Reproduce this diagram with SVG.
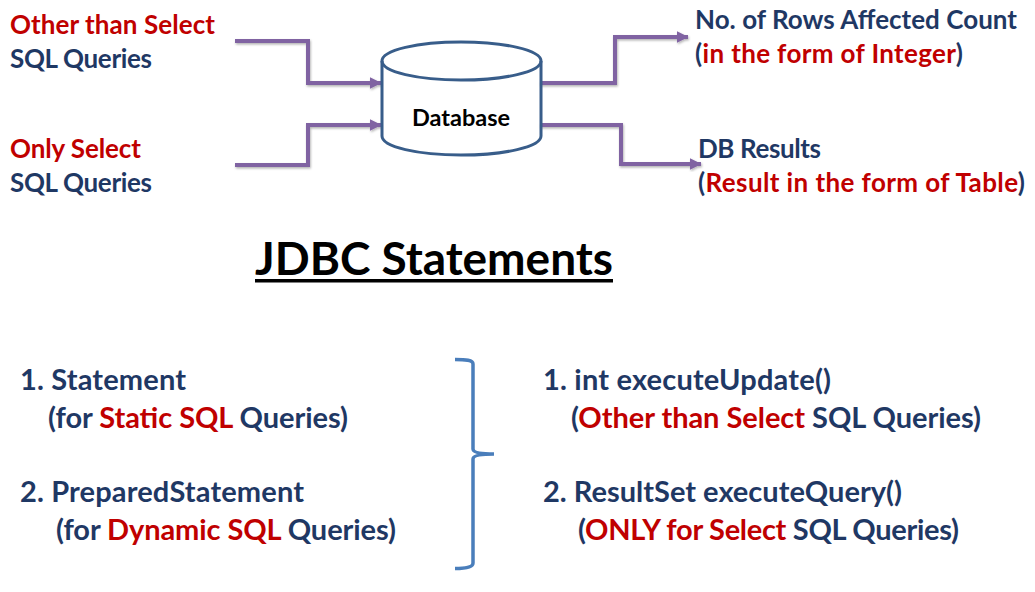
<svg xmlns="http://www.w3.org/2000/svg" width="1035" height="592" viewBox="0 0 1035 592">
<style>
text{font-family:Lato,"Open Sans","Liberation Sans",sans-serif;font-weight:700;font-size:26px;fill:#1f3864}
.r{fill:#c00000}
.big{font-size:29px}
.conn{fill:none;stroke:#8064a2;stroke-width:4;stroke-linejoin:miter;filter:url(#sh)}
.db{fill:none;stroke:#385d8a;stroke-width:3}
</style>
<defs>
<filter id="sh" x="-10%" y="-20%" width="120%" height="140%"><feDropShadow dx="0.8" dy="1.5" stdDeviation="1" flood-color="#000" flood-opacity="0.3"/></filter>
<marker id="ah" viewBox="0 0 10 10" refX="9.5" refY="5" markerWidth="12" markerHeight="12" markerUnits="userSpaceOnUse" orient="auto" preserveAspectRatio="none"><path d="M0 0L10 5L0 10Z" fill="#8064a2"/></marker>
</defs>
<rect width="1035" height="592" fill="#fff"/>
<g id="connectors">
<path class="conn" marker-end="url(#ah)" d="M235 41H308V83H381"/>
<path class="conn" marker-end="url(#ah)" d="M235 165H308V125H381"/>
<path class="conn" marker-end="url(#ah)" d="M540 83H615V37H688"/>
<path class="conn" marker-end="url(#ah)" d="M540 125H621V164H701"/>
</g>
<g id="database">
<path class="db" d="M382 61C382 50 418 42 461 42C504 42 541 50 541 61V136C541 147 504 155 461 155C418 155 382 147 382 136Z"/>
<path class="db" d="M382 61C382 72 418 80 461 80C504 80 541 72 541 61"/>
<text x="461" y="126" text-anchor="middle" style="font-size:23.500px;fill:#000">Database</text>
</g>
<g id="input-other">
<text x="10" y="34" textLength="205"><tspan class="r">Other than Select</tspan></text>
<text x="10" y="68" textLength="142">SQL Queries</text>
</g>
<g id="input-select">
<text x="10" y="158" textLength="131"><tspan class="r">Only Select</tspan></text>
<text x="10" y="192" textLength="142">SQL Queries</text>
</g>
<g id="output-count">
<text x="695" y="29" textLength="322">No. of Rows Affected Count</text>
<text x="695" y="63" textLength="268">(<tspan class="r">in the form of Integer</tspan>)</text>
</g>
<g id="output-results">
<text x="698" y="158" textLength="123">DB Results</text>
<text x="698" y="192" textLength="327">(<tspan class="r">Result in the form of Table</tspan>)</text>
</g>
<g id="title">
<text x="255" y="275" textLength="358" style="font-size:46px;fill:#000">JDBC Statements</text>
<rect x="255" y="279" width="358" height="3.5" fill="#000"/>
</g>
<g id="statements">
<text class="big" x="20" y="390" textLength="166">1. Statement</text>
<text class="big" x="48" y="428" textLength="300">(for <tspan class="r">Static SQL</tspan> Queries)</text>
<text class="big" x="20" y="502" textLength="284">2. PreparedStatement</text>
<text class="big" x="56" y="540" textLength="340">(for <tspan class="r">Dynamic SQL</tspan> Queries)</text>
</g>
<g id="brace">
<path d="M455 359.500C466 359.500 473 360 473 364V449C473 452 478 454 494 454C478 454 473 456 473 459V563C473 567 466 568.500 455 568.500" fill="none" stroke="#4a7ebb" stroke-width="3.500"/>
</g>
<g id="methods">
<text class="big" x="543" y="390" textLength="288">1. int executeUpdate()</text>
<text class="big" x="571" y="428" textLength="410">(<tspan class="r">Other than Select</tspan> SQL Queries)</text>
<text class="big" x="543" y="502" textLength="359">2. ResultSet executeQuery()</text>
<text class="big" x="578" y="540" textLength="381">(<tspan class="r">ONLY for Select</tspan> SQL Queries)</text>
</g>
</svg>
